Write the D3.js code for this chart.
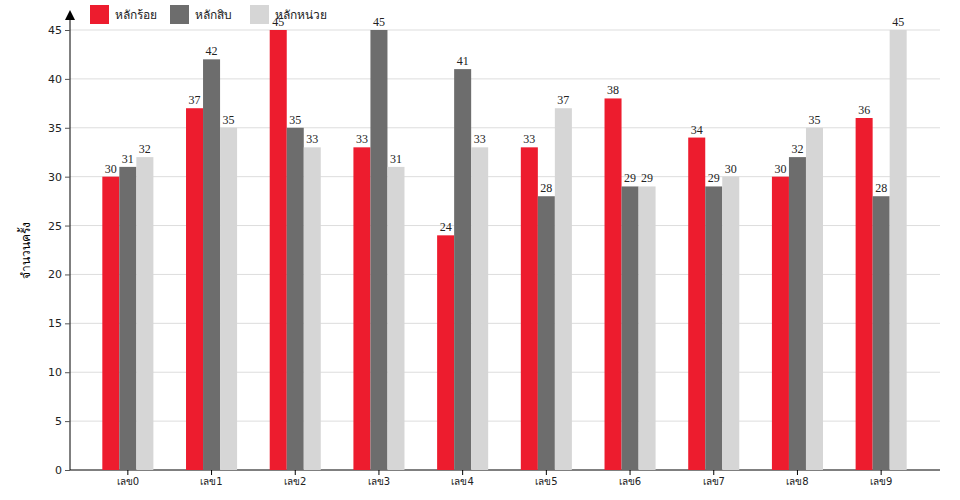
<!DOCTYPE html><html><head><meta charset="utf-8"><script src="https://cdn.jsdelivr.net/npm/d3@7"></script>
<style>body{margin:0;background:#fff}</style></head><body><svg width="960" height="500"></svg><script>
const categories=["เลข0","เลข1","เลข2","เลข3","เลข4","เลข5","เลข6","เลข7","เลข8","เลข9"];
const seriesNames=["หลักร้อย","หลักสิบ","หลักหน่วย"];
const colors=["#ed1c2e","#6d6d6d","#d6d6d6"];
const hundreds=[30,37,45,33,24,33,38,34,30,36];
const tens=[31,42,35,45,41,28,29,29,32,28];
const units=[32,35,33,31,33,37,29,30,35,45];
const yTicks=[0,5,10,15,20,25,30,35,40,45];
const series=[hundreds,tens,units];
const svg=d3.select("svg");
const x=d3.scaleBand().domain(categories).range([86,923]).paddingInner(0.39).paddingOuter(0.195);
const x1=d3.scaleBand().domain([0,1,2]).range([0,x.bandwidth()]);
const y=d3.scaleLinear().domain([0,45]).range([470,30]);
svg.append("g").selectAll("line").data(yTicks.slice(1)).join("line").attr("x1",70).attr("x2",940).attr("y1",d=>y(d)).attr("y2",d=>y(d)).attr("stroke","#ddd");
const ya=svg.append("g").attr("transform","translate(70,0)").call(d3.axisLeft(y).tickValues(yTicks).tickSize(5));
ya.select(".domain").attr("d","M0,470V18");
ya.selectAll("text").attr("font-family","DejaVu Sans").attr("font-size",11).attr("fill","#222");
ya.selectAll(".tick line").attr("stroke","#555");
svg.append("path").attr("d","M70,10L65,20L75,20Z").attr("fill","#000");
const xa=svg.append("g").attr("transform","translate(0,470)").call(d3.axisBottom(x).tickSize(5));
xa.select(".domain").attr("d","M70,0H940");
xa.selectAll("text").attr("font-family","DejaVu Sans").attr("font-size",10).attr("fill","#222");
series.forEach((s,i)=>{
 const g=svg.append("g");
 g.selectAll("rect").data(s).join("rect").attr("x",(d,j)=>x(categories[j])+x1(i)).attr("width",x1.bandwidth()).attr("y",d=>y(d)).attr("height",d=>470-y(d)).attr("fill",colors[i]);
 g.selectAll("text").data(s).join("text").attr("x",(d,j)=>x(categories[j])+x1(i)+x1.bandwidth()/2).attr("y",d=>y(d)-4).attr("text-anchor","middle").attr("font-family","Liberation Serif").attr("font-size",12).attr("fill","#222").text(d=>d);
});
svg.append("text").attr("transform","translate(30,250) rotate(-90)").attr("text-anchor","middle").attr("font-family","Noto Sans").attr("font-size",12).text("จำนวนครั้ง");
const lg=svg.append("g");
const lx=[90,170,250];
seriesNames.forEach((n,i)=>{
 lg.append("rect").attr("x",lx[i]).attr("y",5).attr("width",19).attr("height",19).attr("fill",colors[i]);
 lg.append("text").attr("x",lx[i]+25).attr("y",19).attr("font-family","Noto Sans").attr("font-size",12).attr("fill","#222").text(n);
});
</script></body></html>
